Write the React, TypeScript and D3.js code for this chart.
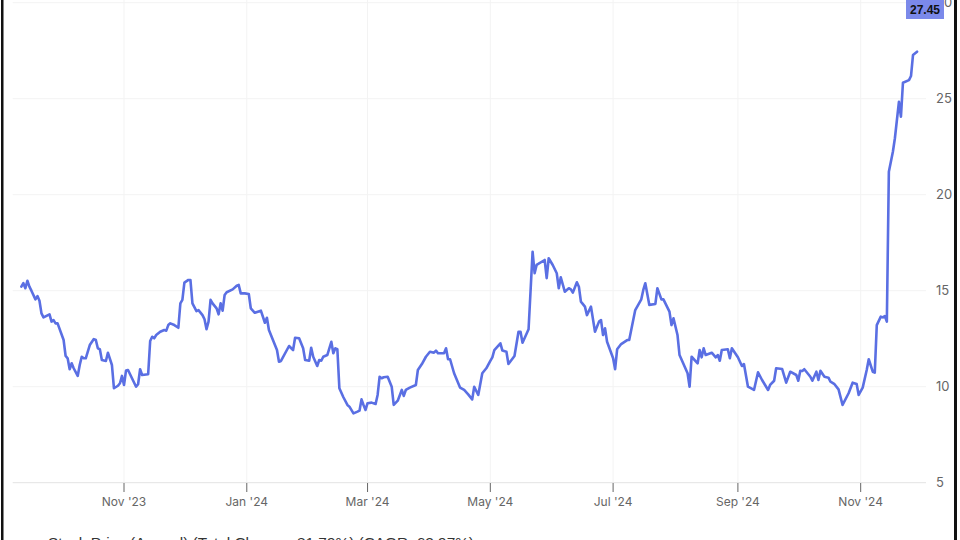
import React from "react";
import * as d3 from "d3";

const dates: string[] = [
  "2023-09-11","2023-09-12","2023-09-13","2023-09-14","2023-09-15","2023-09-16","2023-09-18","2023-09-19","2023-09-20","2023-09-21","2023-09-22","2023-09-25","2023-09-26","2023-09-27","2023-09-28","2023-09-29",
  "2023-10-02","2023-10-03","2023-10-04","2023-10-05","2023-10-06","2023-10-07","2023-10-09","2023-10-10","2023-10-11","2023-10-12","2023-10-13","2023-10-15","2023-10-17","2023-10-18","2023-10-19","2023-10-20","2023-10-21","2023-10-23","2023-10-24","2023-10-26","2023-10-27","2023-10-29","2023-10-30","2023-10-31",
  "2023-11-01","2023-11-02","2023-11-03","2023-11-07","2023-11-08","2023-11-09","2023-11-10","2023-11-13","2023-11-14","2023-11-15","2023-11-16","2023-11-17","2023-11-19","2023-11-21","2023-11-22","2023-11-23","2023-11-24","2023-11-26","2023-11-28","2023-11-29","2023-11-30",
  "2023-12-01","2023-12-03","2023-12-04","2023-12-05","2023-12-07","2023-12-08","2023-12-10","2023-12-11","2023-12-12","2023-12-13","2023-12-14","2023-12-15","2023-12-17","2023-12-18","2023-12-19","2023-12-20","2023-12-21","2023-12-22","2023-12-25","2023-12-27","2023-12-28","2023-12-29","2023-12-31",
  "2024-01-02","2024-01-03","2024-01-05","2024-01-08","2024-01-10","2024-01-11","2024-01-12","2024-01-16","2024-01-17","2024-01-18","2024-01-22","2024-01-24","2024-01-25","2024-01-27","2024-01-29","2024-01-30",
  "2024-02-01","2024-02-02","2024-02-03","2024-02-05","2024-02-06","2024-02-07","2024-02-08","2024-02-10","2024-02-12","2024-02-13","2024-02-14","2024-02-15","2024-02-16","2024-02-18","2024-02-20","2024-02-21","2024-02-23","2024-02-25","2024-02-26","2024-02-27","2024-02-28","2024-02-29",
  "2024-03-01","2024-03-03","2024-03-05","2024-03-06","2024-03-07","2024-03-08","2024-03-09","2024-03-11","2024-03-12","2024-03-13","2024-03-14","2024-03-16","2024-03-18","2024-03-19","2024-03-20","2024-03-22","2024-03-25","2024-03-26","2024-03-28","2024-03-30",
  "2024-04-01","2024-04-03","2024-04-04","2024-04-05","2024-04-08","2024-04-09","2024-04-10","2024-04-11","2024-04-13","2024-04-16","2024-04-18","2024-04-20","2024-04-22","2024-04-23","2024-04-25","2024-04-27","2024-04-29",
  "2024-05-01","2024-05-02","2024-05-03","2024-05-06","2024-05-07","2024-05-09","2024-05-10","2024-05-13","2024-05-15","2024-05-16","2024-05-17","2024-05-20","2024-05-22","2024-05-23","2024-05-24","2024-05-28","2024-05-29","2024-05-30",
  "2024-06-01","2024-06-03","2024-06-04","2024-06-05","2024-06-07","2024-06-09","2024-06-10","2024-06-11","2024-06-13","2024-06-14","2024-06-15","2024-06-17","2024-06-18","2024-06-20","2024-06-22","2024-06-24","2024-06-25","2024-06-26","2024-06-27","2024-06-28",
  "2024-07-01","2024-07-02","2024-07-03","2024-07-05","2024-07-08","2024-07-09","2024-07-12","2024-07-15","2024-07-16","2024-07-17","2024-07-19","2024-07-22","2024-07-23","2024-07-25","2024-07-26","2024-07-29","2024-07-30","2024-07-31",
  "2024-08-02","2024-08-03","2024-08-07","2024-08-08","2024-08-09","2024-08-12","2024-08-13","2024-08-14","2024-08-15","2024-08-16","2024-08-19","2024-08-21","2024-08-22","2024-08-23","2024-08-24","2024-08-27","2024-08-28","2024-08-29",
  "2024-09-01","2024-09-03","2024-09-04","2024-09-06","2024-09-09","2024-09-11","2024-09-13","2024-09-16","2024-09-17","2024-09-19","2024-09-20","2024-09-23","2024-09-25","2024-09-27","2024-09-30",
  "2024-10-01","2024-10-02","2024-10-03","2024-10-04","2024-10-07","2024-10-08","2024-10-10","2024-10-11","2024-10-12","2024-10-14","2024-10-16","2024-10-17","2024-10-19","2024-10-21","2024-10-23","2024-10-26","2024-10-28","2024-10-30","2024-10-31",
  "2024-11-02","2024-11-04","2024-11-05","2024-11-07","2024-11-08","2024-11-09","2024-11-11","2024-11-12","2024-11-13","2024-11-14","2024-11-15","2024-11-17","2024-11-18","2024-11-20","2024-11-21","2024-11-22","2024-11-25","2024-11-26","2024-11-27","2024-11-29",
];

const prices: number[] = [
  15.21,15.39,15.13,15.52,15.21,15.0,14.55,14.72,14.48,13.82,13.61,13.77,13.39,13.47,13.30,13.30,
  12.43,11.60,11.48,10.91,11.22,10.96,10.56,11.13,11.56,11.48,11.48,12.17,12.48,12.43,12.0,11.95,11.39,11.34,11.77,11.13,9.92,10.05,10.18,10.56,
  10.09,10.84,10.87,10.0,10.13,10.91,10.61,10.65,12.38,12.60,12.52,12.69,12.86,12.95,12.92,13.21,13.30,13.21,13.07,14.34,14.52,
  15.42,15.56,15.56,14.34,13.94,13.99,13.73,13.51,12.99,13.39,14.52,14.34,14.08,13.77,14.34,13.96,14.78,14.92,15.07,15.26,15.30,14.86,14.86,
  14.83,14.08,13.85,13.96,13.33,13.59,12.95,11.91,11.30,11.34,12.12,11.91,12.55,12.52,12.0,11.39,
  11.35,12.03,11.56,11.08,11.39,11.35,11.56,11.65,12.34,11.74,12.0,11.95,9.92,9.45,9.05,8.96,8.61,8.70,8.75,9.34,9.05,8.79,
  9.14,9.17,9.10,9.57,10.52,10.44,10.49,10.52,10.26,10.0,9.05,9.27,9.83,9.52,9.83,9.95,10.09,10.87,11.18,11.56,
  11.82,11.77,11.88,11.74,11.74,12.0,11.43,11.43,10.70,9.95,9.83,9.60,9.34,10.0,9.57,10.70,10.96,
  11.35,11.53,11.91,12.26,11.88,11.82,11.18,11.60,12.86,12.86,12.29,12.99,17.03,15.91,16.34,16.60,15.65,16.69,
  16.34,15.91,15.13,15.70,14.95,15.13,15.07,14.90,15.44,15.21,14.43,14.17,13.73,14.17,12.86,13.39,13.47,12.69,13.04,12.34,
  11.48,10.91,11.95,12.22,12.43,12.43,13.99,14.55,15.04,15.39,14.26,14.31,15.13,14.55,14.55,13.91,13.21,13.56,
  12.69,11.65,10.70,10.0,11.56,11.22,11.91,11.53,12.0,11.65,11.77,11.53,11.65,11.35,11.91,11.95,11.48,12.0,
  11.53,11.08,11.18,10.0,9.83,10.75,10.35,9.83,10.09,10.31,10.96,10.92,10.21,10.78,10.61,
  10.31,10.83,10.82,10.91,10.52,10.31,10.78,10.35,10.83,10.52,10.47,10.26,10.13,9.86,9.05,9.66,10.21,10.14,9.57,
  9.95,10.87,11.43,10.78,10.73,13.21,13.65,13.61,13.68,13.39,21.20,22.24,22.94,24.84,24.06,25.83,25.97,26.18,27.28,27.45,
];

const yTicks: number[] = [5, 10, 15, 20, 25, 30];
const xTickDates: string[] = ["2023-11-01", "2024-01-01", "2024-03-01", "2024-05-01", "2024-07-01", "2024-09-01", "2024-11-01"];
const xDomain: string[] = ["2023-09-07", "2024-12-04"];
const legendText = "Stock Price (Annual) (Total Change: 81.79%) (CAGR: 62.97%)";

const W = 960;
const H = 540;
const LINE_COLOR = "#5a6fe3";

export default function App() {
  const parse = (s: string) => new Date(s + "T00:00:00Z");
  const data = dates.map((d, i) => ({ date: parse(d), value: prices[i] }));

  const x = d3.scaleUtc().domain(xDomain.map(parse)).range([13.3, 927.1]);
  const y = d3.scaleLinear().domain([5, 30]).range([482.7, 2.7]);
  const fmt = d3.utcFormat("%b '%y");

  const line = d3
    .line<{ date: Date; value: number }>()
    .x((d) => x(d.date))
    .y((d) => y(d.value))
    .curve(d3.curveLinear);

  const last = data[data.length - 1];
  const plotLeft = 12.7;
  const plotRight = 926;
  const tickFont = "Inter, 'DejaVu Sans', sans-serif";

  return (
    <svg
      width={W}
      height={H}
      viewBox={`0 0 ${W} ${H}`}
      style={{ position: "absolute", left: 0, top: 0, background: "#fff" }}
    >
      <rect x={0} y={0} width={W} height={H} fill="#fff" />
      {xTickDates.map((d) => (
        <line key={"vg" + d} x1={x(parse(d))} x2={x(parse(d))} y1={0} y2={482.7} stroke="#f3f3f3" strokeWidth={1} />
      ))}
      {yTicks.map((t) => (
        <line
          key={"hg" + t}
          x1={plotLeft}
          x2={plotRight}
          y1={y(t)}
          y2={y(t)}
          stroke={t === 5 ? "#e3e3e3" : "#f3f3f3"}
          strokeWidth={1}
        />
      ))}
      {xTickDates.map((d) => {
        const xx = x(parse(d));
        return (
          <g key={"xt" + d}>
            <line x1={xx} x2={xx} y1={483} y2={492} stroke="#666" strokeWidth={1} />
            <text x={xx} y={506} textAnchor="middle" fontFamily={tickFont} fontSize={12} fill="#666">
              {fmt(parse(d))}
            </text>
          </g>
        );
      })}
      {yTicks.map((t) => (
        <text
          key={"yt" + t}
          x={936}
          y={y(t)}
          dy="0.35em"
          fontFamily={tickFont}
          fontSize={13}
          fill="#666"
        >
          {t}
        </text>
      ))}
      <path d={line(data) || ""} fill="none" stroke={LINE_COLOR} strokeWidth={2.6} strokeLinejoin="round" strokeLinecap="round" />
      <rect x={906} y={0} width={38} height={19} fill="#7b89ea" />
      <text
        x={925}
        y={9.5}
        dy="0.36em"
        textAnchor="middle"
        fontFamily="'Liberation Sans', Arial, sans-serif"
        fontWeight="bold"
        fontSize={12}
        fill="#111"
      >
        {last.value.toFixed(2)}
      </text>
      <text x={48} y={548} fontFamily="'Liberation Sans', Arial, sans-serif" fontSize={15.4} fill="#333">
        {legendText}
      </text>
      <rect x={1} y={0} width={2.5} height={H} fill="#111" />
      <rect x={954} y={0} width={3} height={H} fill="#111" />
    </svg>
  );
}
